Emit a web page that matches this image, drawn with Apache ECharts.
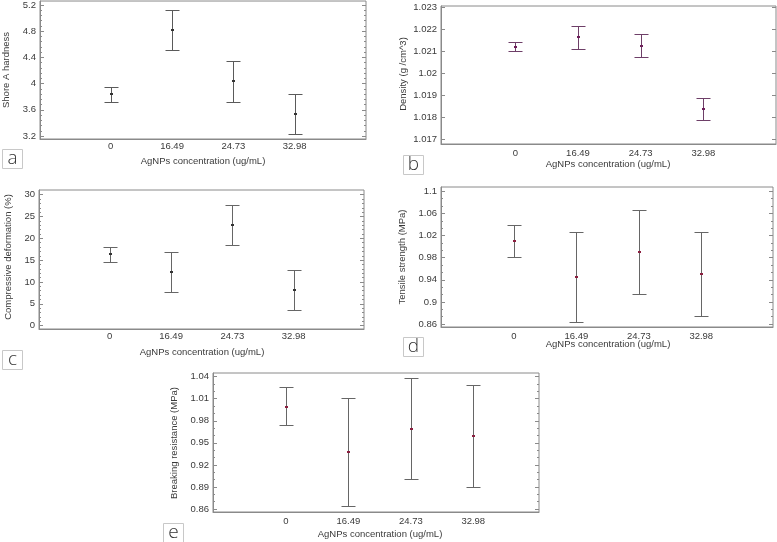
<!DOCTYPE html>
<html>
<head>
<meta charset="utf-8">
<script src="https://cdn.jsdelivr.net/npm/echarts@6/dist/echarts.min.js"></script>
<style>html,body{margin:0;padding:0;background:#fff;}#c{width:777px;height:542px;}</style>
</head>
<body>
<div id="c"></div>
<script>
// ---- data ----
const categories = ['0', '16.49', '24.73', '32.98'];

const hardnessMean = [3.836, 4.826, 4.038, 3.538];
const hardnessLow  = [3.720, 4.513, 3.725, 3.225];
const hardnessHigh = [3.953, 5.129, 4.341, 3.841];
const hardnessTicks = [3.2, 3.6, 4, 4.4, 4.8, 5.2];

const densityMean = [1.021212, 1.021636, 1.021258, 1.018394];
const densityLow  = [1.021030, 1.021121, 1.020742, 1.017894];
const densityHigh = [1.021440, 1.022136, 1.021773, 1.018894];
const densityTicks = [1.017, 1.018, 1.019, 1.02, 1.021, 1.022, 1.023];

const compMean = [16.34, 12.21, 23.05, 8.24];
const compLow  = [14.58, 7.63, 18.40, 3.66];
const compHigh = [18.02, 16.87, 27.56, 12.82];
const compTicks = [0, 5, 10, 15, 20, 25, 30];

const tensileMean = [1.0101, 0.9444, 0.9909, 0.9498];
const tensileLow  = [0.9818, 0.8642, 0.9149, 0.8739];
const tensileHigh = [1.0391, 1.0258, 1.0656, 1.0258];
const tensileTicks = [0.86, 0.9, 0.94, 0.98, 1.02, 1.06, 1.1];

const breakMean = [0.9992, 0.9380, 0.9693, 0.9597];
const breakLow  = [0.9738, 0.8641, 0.9004, 0.8904];
const breakHigh = [1.0255, 1.0114, 1.0386, 1.0287];
const breakTicks = [0.86, 0.89, 0.92, 0.95, 0.98, 1.01, 1.04];

const xName = 'AgNPs concentration (ug/mL)';

// ---- layout ----
const panels = [
  { key:'a', mean:hardnessMean, low:hardnessLow, high:hardnessHigh, ticks:hardnessTicks, sub:5,
    name:'Shore A hardness', grid:{left:40, top:0, width:326, height:139},
    ymin:3.1545, ymax:5.2606, xmin:-1.153, xmax:4.163, line:'#5a5a5a', dot:'#333333',
    yNamePos:[6,70], xNamePos:[203,161], labelMargin:2, box:[2,149] },
  { key:'b', mean:densityMean, low:densityLow, high:densityHigh, ticks:densityTicks, sub:1,
    name:'Density (g /cm^3)', grid:{left:441, top:6, width:335, height:138},
    ymin:1.0167877, ymax:1.0230606, xmin:-1.186, xmax:4.160, line:'#6e3f68', dot:'#6e1f5a',
    yNamePos:[403,74], xNamePos:[608,164], labelMargin:4, box:[403,155] },
  { key:'c', mean:compMean, low:compLow, high:compHigh, ticks:compTicks, sub:5,
    name:'Compressive deformation (%)', grid:{left:39, top:190, width:325, height:139},
    ymin:-0.763, ymax:31.07, xmin:-1.153, xmax:4.146, line:'#666666', dot:'#333333',
    yNamePos:[8,257], xNamePos:[202,352], labelMargin:2, box:[2,350] },
  { key:'d', mean:tensileMean, low:tensileLow, high:tensileHigh, ticks:tensileTicks, sub:3,
    name:'Tensile strength (MPa)', grid:{left:441, top:187, width:332, height:140},
    ymin:0.85457, ymax:1.10784, xmin:-1.169, xmax:4.149, line:'#666666', dot:'#8b1f3f',
    yNamePos:[402,257], xNamePos:[608,344], labelMargin:4, box:[403,337] },
  { key:'e', mean:breakMean, low:breakLow, high:breakHigh, ticks:breakTicks, sub:3,
    name:'Breaking resistance (MPa)', grid:{left:213, top:373, width:326, height:139},
    ymin:0.85592, ymax:1.04499, xmin:-1.169, xmax:4.053, line:'#666666', dot:'#8b1f3f',
    yNamePos:[174,443], xNamePos:[380,534], labelMargin:4, box:[163,523] }
];

function minorOf(ticks, sub) {
  const out = [];
  if (sub <= 1) return out;
  for (let i = 0; i < ticks.length - 1; i++) {
    const step = (ticks[i + 1] - ticks[i]) / sub;
    for (let k = 1; k < sub; k++) out.push(+(ticks[i] + step * k).toFixed(6));
  }
  return out;
}

const FONT = 'Liberation Sans, Arial, sans-serif';
const TEXT = '#3a3a3a';
const AXIS = '#8a8a8a';

const grids = [], xAxes = [], yAxes = [], series = [], graphics = [];

panels.forEach((p, i) => {
  grids.push(Object.assign({ show:true, borderColor:AXIS, borderWidth:1, backgroundColor:'#fff' }, p.grid));
  xAxes.push({
    type:'value', gridIndex:i, min:p.xmin, max:p.xmax,
    splitLine:{show:false}, axisTick:{show:false},
    axisLine:{show:true, onZero:false, lineStyle:{color:AXIS}},
    axisLabel:{ customValues:[0,1,2,3], formatter:v => categories[Math.round(v)],
      color:TEXT, fontSize:9.5, fontFamily:FONT, margin:p.labelMargin }
  });
  const mainIndex = yAxes.length;
  const minors = minorOf(p.ticks, p.sub);
  // left major (labels)
  yAxes.push({
    type:'value', gridIndex:i, position:'left', min:p.ymin, max:p.ymax,
    splitLine:{show:false},
    axisLine:{show:true, onZero:false, lineStyle:{color:AXIS}},
    axisTick:{show:true, inside:true, length:4, customValues:p.ticks, lineStyle:{color:AXIS}},
    axisLabel:{ customValues:p.ticks, formatter:v => String(v), color:TEXT, fontSize:9.5, fontFamily:FONT, margin:4 }
  });
  // right major
  yAxes.push({
    type:'value', gridIndex:i, position:'right', min:p.ymin, max:p.ymax,
    splitLine:{show:false}, axisLine:{show:false, onZero:false},
    axisTick:{show:true, inside:true, length:4, customValues:p.ticks, lineStyle:{color:AXIS}},
    axisLabel:{show:false}
  });
  if (minors.length) {
    yAxes.push({
      type:'value', gridIndex:i, position:'left', min:p.ymin, max:p.ymax,
      splitLine:{show:false}, axisLine:{show:false, onZero:false},
      axisTick:{show:true, inside:true, length:2, customValues:minors, lineStyle:{color:AXIS}},
      axisLabel:{show:false}
    });
    yAxes.push({
      type:'value', gridIndex:i, position:'right', min:p.ymin, max:p.ymax,
      splitLine:{show:false}, axisLine:{show:false, onZero:false},
      axisTick:{show:true, inside:true, length:2, customValues:minors, lineStyle:{color:AXIS}},
      axisLabel:{show:false}
    });
  }
  const data = categories.map((c, k) => [k, p.mean[k], p.low[k], p.high[k]]);
  series.push({
    type:'custom', xAxisIndex:i, yAxisIndex:mainIndex, data:data, silent:true,
    renderItem:function(params, api) {
      const x = api.value(0);
      const m = api.coord([x, api.value(1)]);
      const lo = api.coord([x, api.value(2)]);
      const hi = api.coord([x, api.value(3)]);
      const cx = Math.round(m[0]) + 0.5;
      const yl = Math.round(lo[1]) + 0.5, yh = Math.round(hi[1]) + 0.5;
      const w = 7;
      const st = { stroke:p.line, lineWidth:1 };
      return { type:'group', children:[
        { type:'line', shape:{x1:cx, y1:yl, x2:cx, y2:yh}, style:st },
        { type:'line', shape:{x1:cx - w, y1:yl, x2:cx + w, y2:yl}, style:st },
        { type:'line', shape:{x1:cx - w, y1:yh, x2:cx + w, y2:yh}, style:st },
        { type:'rect', shape:{x:cx - 1.5, y:Math.round(m[1]) - 1, width:3, height:2}, style:{fill:p.dot} }
      ]};
    }
  });
  graphics.push({
    type:'text', x:p.yNamePos[0], y:p.yNamePos[1], rotation:Math.PI / 2,
    style:{ text:p.name, fill:TEXT, font:'9.5px ' + FONT, textAlign:'center', textVerticalAlign:'middle' }
  });
  graphics.push({
    type:'text', x:p.xNamePos[0], y:p.xNamePos[1],
    style:{ text:xName, fill:TEXT, font:'9.5px ' + FONT, textAlign:'center', textVerticalAlign:'middle' }
  });
  graphics.push({
    type:'rect', shape:{x:p.box[0] + 0.5, y:p.box[1] + 0.5, width:20, height:19},
    style:{ fill:'#fff', stroke:'#c8c8c8', lineWidth:1 }
  });
  graphics.push({
    type:'text', x:p.box[0] + 10.5, y:p.box[1] + 9.5,
    style:{ text:p.key, fill:'#333', font:'300 19px "Open Sans", sans-serif', textAlign:'center', textVerticalAlign:'middle' }
  });
});

const chart = echarts.init(document.getElementById('c'), null, { renderer:'canvas' });
chart.setOption({
  animation:false,
  backgroundColor:'#fff',
  grid:grids, xAxis:xAxes, yAxis:yAxes, series:series, graphic:graphics
});
</script>
</body>
</html>
